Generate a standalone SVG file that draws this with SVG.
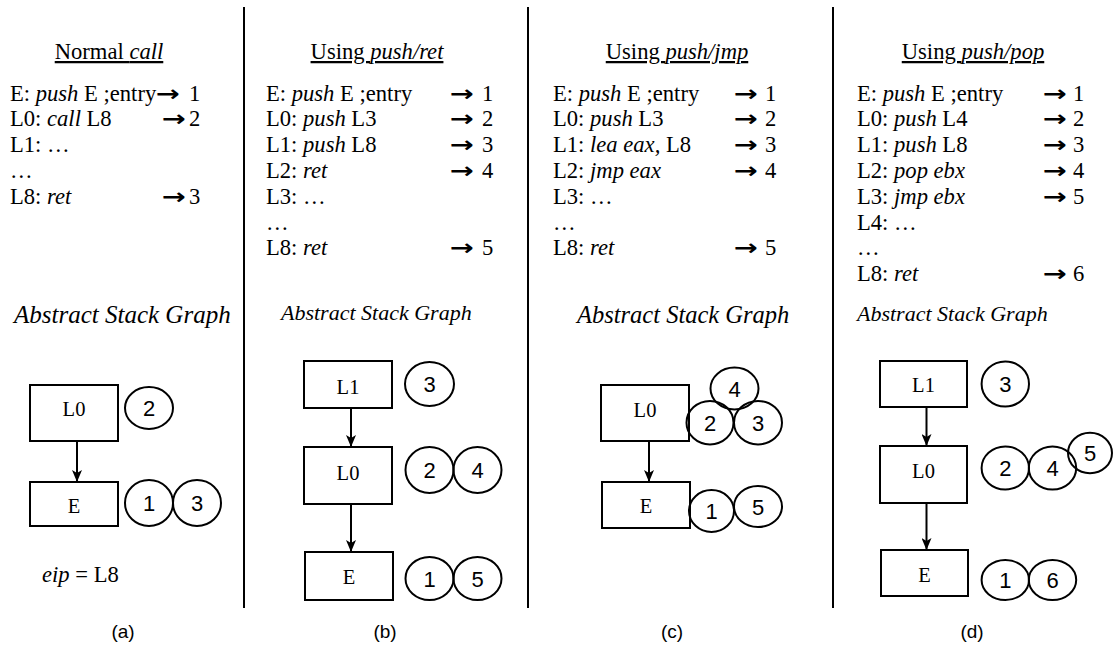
<svg xmlns="http://www.w3.org/2000/svg" width="1113" height="655" viewBox="0 0 1113 655">
  <defs>
    <marker id="ah" markerUnits="userSpaceOnUse" markerWidth="12" markerHeight="10" refX="12" refY="5" orient="auto">
      <path d="M0,0 L12,5 L0,10 L3,5 z" fill="#000"/>
    </marker>
    <style>
      .code{font-family:"Liberation Serif","Times New Roman",serif;font-size:22.6px;fill:#000}
      .it{font-style:italic}
      .ttl{text-anchor:middle;text-decoration:underline}
      .arr{font-family:"DejaVu Sans",sans-serif;font-weight:bold;font-size:22px;fill:#000}
      .asg{font-family:"Liberation Serif","Times New Roman",serif;font-style:italic;fill:#000}
      .box{fill:#fff;stroke:#000;stroke-width:2}
      .oval{fill:none;stroke:#000;stroke-width:2}
      .lbl{font-family:"Liberation Serif","Times New Roman",serif;font-size:20.5px;text-anchor:middle;fill:#000}
      .num{font-family:"Liberation Sans",Arial,sans-serif;font-size:22px;text-anchor:middle;fill:#000}
      .cap{font-family:"Liberation Sans",Arial,sans-serif;font-size:19px;text-anchor:middle;fill:#000}
      .edge{stroke:#000;stroke-width:2;fill:none;marker-end:url(#ah)}
      .sep{stroke:#000;stroke-width:2}
    </style>
  </defs>
  <rect width="1113" height="655" fill="#fff"/>

  <!-- panel separators -->
  <g id="separators">
    <line class="sep" x1="244" y1="7" x2="244" y2="608"/>
    <line class="sep" x1="528" y1="7" x2="528" y2="608"/>
    <line class="sep" x1="833" y1="7" x2="833" y2="608"/>
  </g>

  <!-- (a) normal call -->
  <g id="listing-a" class="code">
    <text class="ttl" x="109" y="59">Normal <tspan class="it">call</tspan></text>
    <text x="10" y="100.5">E: <tspan class="it">push</tspan> E ;entry</text>
    <text x="10" y="126.3">L0: <tspan class="it">call</tspan> L8</text>
    <text x="10" y="152.1">L1: …</text>
    <text x="10" y="177.9">…</text>
    <text x="10" y="203.7">L8: <tspan class="it">ret</tspan></text>
    <text class="arr" x="156" y="100.5" textLength="24" lengthAdjust="spacingAndGlyphs">→</text>
    <text class="arr" x="162" y="126.3" textLength="24" lengthAdjust="spacingAndGlyphs">→</text>
    <text class="arr" x="162" y="203.7" textLength="24" lengthAdjust="spacingAndGlyphs">→</text>
    <text x="189" y="100.5">1</text>
    <text x="189" y="126.3">2</text>
    <text x="189" y="203.7">3</text>
  </g>
  <text class="asg" x="14" y="323" font-size="25">Abstract Stack Graph</text>
  <g id="a-L0"><rect class="box" x="30" y="385" width="88" height="56"/><text class="lbl" x="74" y="416">L0</text></g>
  <g id="a-E"><rect class="box" x="30" y="482" width="88" height="44"/><text class="lbl" x="74" y="513">E</text></g>
  <g id="a-s2"><ellipse class="oval" cx="149" cy="408" rx="24" ry="21"/><text class="num" x="149" y="416">2</text></g>
  <g id="a-s1"><ellipse class="oval" cx="149" cy="503" rx="24" ry="23"/><text class="num" x="149" y="511">1</text></g>
  <g id="a-s3"><ellipse class="oval" cx="197" cy="503" rx="24" ry="23"/><text class="num" x="197" y="511">3</text></g>
  <text class="code" x="42" y="582"><tspan class="it">eip</tspan> = L8</text>

  <!-- (b) push/ret -->
  <g id="listing-b" class="code">
    <text class="ttl" x="377" y="59">Using <tspan class="it">push/ret</tspan></text>
    <text x="266" y="100.5">E: <tspan class="it">push</tspan> E ;entry</text>
    <text x="266" y="126.3">L0: <tspan class="it">push</tspan> L3</text>
    <text x="266" y="152.1">L1: <tspan class="it">push</tspan> L8</text>
    <text x="266" y="177.9">L2: <tspan class="it">ret</tspan></text>
    <text x="266" y="203.7">L3: …</text>
    <text x="266" y="229.5">…</text>
    <text x="266" y="255.3">L8: <tspan class="it">ret</tspan></text>
    <text class="arr" x="450" y="100.5" textLength="24" lengthAdjust="spacingAndGlyphs">→</text>
    <text class="arr" x="450" y="126.3" textLength="24" lengthAdjust="spacingAndGlyphs">→</text>
    <text class="arr" x="450" y="152.1" textLength="24" lengthAdjust="spacingAndGlyphs">→</text>
    <text class="arr" x="450" y="177.9" textLength="24" lengthAdjust="spacingAndGlyphs">→</text>
    <text class="arr" x="450" y="255.3" textLength="24" lengthAdjust="spacingAndGlyphs">→</text>
    <text x="482" y="100.5">1</text>
    <text x="482" y="126.3">2</text>
    <text x="482" y="152.1">3</text>
    <text x="482" y="177.9">4</text>
    <text x="482" y="255.3">5</text>
  </g>
  <text class="asg" x="281" y="320" font-size="22">Abstract Stack Graph</text>
  <g id="b-L1"><rect class="box" x="304" y="361" width="88" height="47"/><text class="lbl" x="348" y="394">L1</text></g>
  <g id="b-L0"><rect class="box" x="304" y="447" width="88" height="57"/><text class="lbl" x="348" y="480">L0</text></g>
  <g id="b-E"><rect class="box" x="305" y="552" width="88" height="48"/><text class="lbl" x="349" y="584">E</text></g>
  <g id="b-s3"><ellipse class="oval" cx="429.5" cy="384" rx="24.5" ry="22"/><text class="num" x="429.5" y="392">3</text></g>
  <g id="b-s2"><ellipse class="oval" cx="429.5" cy="470" rx="24" ry="23"/><text class="num" x="429.5" y="478">2</text></g>
  <g id="b-s4"><ellipse class="oval" cx="477.5" cy="470" rx="24" ry="23"/><text class="num" x="477.5" y="478">4</text></g>
  <g id="b-s1"><ellipse class="oval" cx="429.5" cy="578.5" rx="24" ry="21.5"/><text class="num" x="429.5" y="586.5">1</text></g>
  <g id="b-s5"><ellipse class="oval" cx="477.5" cy="578.5" rx="24" ry="21.5"/><text class="num" x="477.5" y="586.5">5</text></g>

  <!-- (c) push/jmp -->
  <g id="listing-c" class="code">
    <text class="ttl" x="677" y="59">Using <tspan class="it">push/jmp</tspan></text>
    <text x="553" y="100.5">E: <tspan class="it">push</tspan> E ;entry</text>
    <text x="553" y="126.3">L0: <tspan class="it">push</tspan> L3</text>
    <text x="553" y="152.1">L1: <tspan class="it">lea eax,</tspan> L8</text>
    <text x="553" y="177.9">L2: <tspan class="it">jmp eax</tspan></text>
    <text x="553" y="203.7">L3: …</text>
    <text x="553" y="229.5">…</text>
    <text x="553" y="255.3">L8: <tspan class="it">ret</tspan></text>
    <text class="arr" x="734" y="100.5" textLength="24" lengthAdjust="spacingAndGlyphs">→</text>
    <text class="arr" x="734" y="126.3" textLength="24" lengthAdjust="spacingAndGlyphs">→</text>
    <text class="arr" x="734" y="152.1" textLength="24" lengthAdjust="spacingAndGlyphs">→</text>
    <text class="arr" x="734" y="177.9" textLength="24" lengthAdjust="spacingAndGlyphs">→</text>
    <text class="arr" x="734" y="255.3" textLength="24" lengthAdjust="spacingAndGlyphs">→</text>
    <text x="765" y="100.5">1</text>
    <text x="765" y="126.3">2</text>
    <text x="765" y="152.1">3</text>
    <text x="765" y="177.9">4</text>
    <text x="765" y="255.3">5</text>
  </g>
  <text class="asg" x="577" y="323" font-size="24.5">Abstract Stack Graph</text>
  <g id="c-L0"><rect class="box" x="601" y="385" width="88" height="56"/><text class="lbl" x="645" y="417">L0</text></g>
  <g id="c-E"><rect class="box" x="602" y="482" width="88" height="46"/><text class="lbl" x="646" y="513">E</text></g>
  <g id="c-s4"><ellipse class="oval" cx="734.5" cy="388.5" rx="24" ry="21"/><text class="num" x="734.5" y="396.5">4</text></g>
  <g id="c-s2"><ellipse class="oval" cx="710" cy="422.7" rx="23.5" ry="21.7"/><text class="num" x="710" y="430.7">2</text></g>
  <g id="c-s3"><ellipse class="oval" cx="758" cy="422.7" rx="24" ry="21.7"/><text class="num" x="758" y="430.7">3</text></g>
  <g id="c-s1"><ellipse class="oval" cx="711.5" cy="511" rx="22.5" ry="21"/><text class="num" x="711.5" y="519">1</text></g>
  <g id="c-s5"><ellipse class="oval" cx="758" cy="506.5" rx="24" ry="20.5"/><text class="num" x="758" y="514.5">5</text></g>

  <!-- (d) push/pop -->
  <g id="listing-d" class="code">
    <text class="ttl" x="973" y="59">Using <tspan class="it">push/pop</tspan></text>
    <text x="857" y="100.5">E: <tspan class="it">push</tspan> E ;entry</text>
    <text x="857" y="126.3">L0: <tspan class="it">push</tspan> L4</text>
    <text x="857" y="152.1">L1: <tspan class="it">push</tspan> L8</text>
    <text x="857" y="177.9">L2: <tspan class="it">pop ebx</tspan></text>
    <text x="857" y="203.7">L3: <tspan class="it">jmp ebx</tspan></text>
    <text x="857" y="229.5">L4: …</text>
    <text x="857" y="255.3">…</text>
    <text x="857" y="281.1">L8: <tspan class="it">ret</tspan></text>
    <text class="arr" x="1043" y="100.5" textLength="24" lengthAdjust="spacingAndGlyphs">→</text>
    <text class="arr" x="1043" y="126.3" textLength="24" lengthAdjust="spacingAndGlyphs">→</text>
    <text class="arr" x="1043" y="152.1" textLength="24" lengthAdjust="spacingAndGlyphs">→</text>
    <text class="arr" x="1043" y="177.9" textLength="24" lengthAdjust="spacingAndGlyphs">→</text>
    <text class="arr" x="1043" y="203.7" textLength="24" lengthAdjust="spacingAndGlyphs">→</text>
    <text class="arr" x="1043" y="281.1" textLength="24" lengthAdjust="spacingAndGlyphs">→</text>
    <text x="1073" y="100.5">1</text>
    <text x="1073" y="126.3">2</text>
    <text x="1073" y="152.1">3</text>
    <text x="1073" y="177.9">4</text>
    <text x="1073" y="203.7">5</text>
    <text x="1073" y="281.1">6</text>
  </g>
  <text class="asg" x="857" y="321" font-size="22">Abstract Stack Graph</text>
  <g id="d-L1"><rect class="box" x="880" y="361" width="87" height="46"/><text class="lbl" x="923.5" y="392">L1</text></g>
  <g id="d-L0"><rect class="box" x="880" y="446" width="87" height="57"/><text class="lbl" x="923.5" y="478">L0</text></g>
  <g id="d-E"><rect class="box" x="881" y="550" width="87" height="46"/><text class="lbl" x="924.5" y="582">E</text></g>
  <g id="d-s3"><ellipse class="oval" cx="1005.3" cy="384" rx="23.7" ry="22.5"/><text class="num" x="1005.3" y="392">3</text></g>
  <g id="d-s2"><ellipse class="oval" cx="1005.3" cy="468" rx="23.7" ry="21.5"/><text class="num" x="1005.3" y="476">2</text></g>
  <g id="d-s4"><ellipse class="oval" cx="1052.5" cy="468" rx="23.7" ry="21.5"/><text class="num" x="1052.5" y="476">4</text></g>
  <g id="d-s5"><ellipse class="oval" cx="1090" cy="453" rx="22" ry="20.3"/><text class="num" x="1090" y="461">5</text></g>
  <g id="d-s1"><ellipse class="oval" cx="1005.3" cy="580" rx="23.7" ry="20"/><text class="num" x="1005.3" y="588">1</text></g>
  <g id="d-s6"><ellipse class="oval" cx="1052.5" cy="580" rx="23.7" ry="20"/><text class="num" x="1052.5" y="588">6</text></g>

  <!-- stack edges -->
  <g id="connectors">
    <line class="edge" x1="77" y1="441" x2="77" y2="482"/>
    <line class="edge" x1="351" y1="408" x2="351" y2="447"/>
    <line class="edge" x1="351" y1="504" x2="351" y2="552"/>
    <line class="edge" x1="649" y1="441" x2="649" y2="482"/>
    <line class="edge" x1="926.5" y1="407" x2="926.5" y2="446"/>
    <line class="edge" x1="926.5" y1="503" x2="926.5" y2="550"/>
  </g>

  <!-- captions -->
  <g id="captions" class="cap">
    <text x="123" y="638">(a)</text>
    <text x="385" y="638">(b)</text>
    <text x="672" y="638">(c)</text>
    <text x="972" y="638">(d)</text>
  </g>
</svg>
